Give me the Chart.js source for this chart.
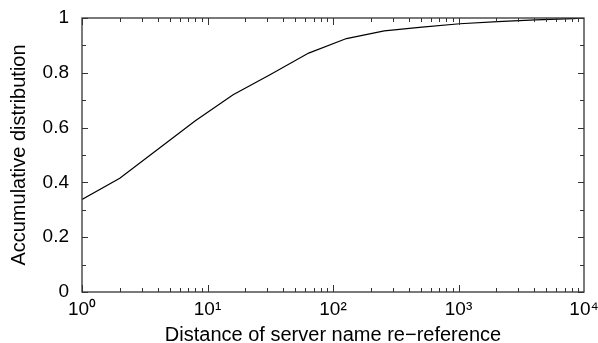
<!DOCTYPE html>
<html lang="en">
<head>
    <meta charset="UTF-8">
    <title>server name re-reference</title>
    <style>
        body { margin: 0; background: #fff; }
        #cdf { display: block; }
    </style>
</head>
<body>
    <canvas id="cdf" width="598" height="343"></canvas>

    <script src="https://cdn.jsdelivr.net/npm/chart.js"></script>
    <script>
        // data (distance, cumulative share)
        const distances = [1, 2, 4, 8, 16, 32, 64, 128, 256, 512, 1024, 2048, 4096, 8192, 10000];
        const cdfValues = [0.338, 0.415, 0.52, 0.625, 0.72, 0.795, 0.872, 0.925, 0.953, 0.967, 0.979, 0.987, 0.993, 0.998, 1.0];

        const xTickValues = [1, 10, 100, 1000, 10000];
        const xTickLabels = ['10\u2070', '10\u00b9', '10\u00b2', '10\u00b3', '10\u2074'];
        const yTickValues = [0, 0.2, 0.4, 0.6, 0.8, 1];
        const yTickLabels = ['0', '0.2', '0.4', '0.6', '0.8', '1'];

        const FONT = 'Liberation Sans, Arial, Helvetica, sans-serif';

        // frame + inward ticks on all four sides, like the gnuplot original
        const frameTicks = {
            id: 'frameTicks',
            afterDraw(chart) {
                const { ctx, chartArea: { left, right, top, bottom }, scales: { x, y } } = chart;
                ctx.save();
                ctx.strokeStyle = '#333';
                ctx.lineWidth = 1.3;
                ctx.strokeRect(left, top, right - left, bottom - top);

                ctx.lineWidth = 1;
                ctx.beginPath();
                for (let d = 1; d <= 1000; d *= 10) {
                    for (let m = 1; m <= 9; m++) {
                        const px = Math.round(x.getPixelForValue(d * m)) + 0.5;
                        const len = m === 1 ? 7 : 4;
                        ctx.moveTo(px, bottom); ctx.lineTo(px, bottom - len);
                        ctx.moveTo(px, top); ctx.lineTo(px, top + len);
                    }
                }
                for (let i = 0; i <= 10; i++) {
                    const py = Math.round(y.getPixelForValue(i / 10)) + 0.5;
                    const len = i % 2 === 0 ? 6 : 4;
                    ctx.moveTo(left, py); ctx.lineTo(left + len, py);
                    ctx.moveTo(right, py); ctx.lineTo(right - len, py);
                }
                ctx.stroke();
                ctx.restore();
            }
        };

        const ctx = document.getElementById('cdf');
        const chart = new Chart(ctx, {
            type: 'line',
            data: {
                datasets: [{
                    data: distances.map((d, i) => ({ x: d, y: cdfValues[i] })),
                    borderColor: '#000',
                    borderWidth: 1.2,
                    pointRadius: 0,
                    tension: 0,
                    fill: false
                }]
            },
            options: {
                responsive: false,
                animation: false,
                layout: { padding: { left: 4, right: 14, top: 18, bottom: 0 } },
                plugins: {
                    legend: { display: false },
                    tooltip: { enabled: false }
                },
                scales: {
                    x: {
                        type: 'logarithmic',
                        min: 1,
                        max: 10000,
                        grid: { display: false, drawTicks: false },
                        border: { display: false },
                        afterBuildTicks: s => { s.ticks = xTickValues.map(v => ({ value: v })); },
                        // fixed box so the plot area lands where the original's does
                        afterFit: s => { s.height = 51; s.paddingLeft = 0; s.paddingRight = 0; },
                        ticks: {
                            color: '#000',
                            autoSkip: false,
                            maxRotation: 0,
                            padding: 6,
                            font: { family: FONT, size: 19 },
                            callback: v => xTickLabels[xTickValues.indexOf(v)]
                        },
                        title: {
                            display: true,
                            text: 'Distance of server name re\u2212reference',
                            color: '#000',
                            font: { family: FONT, size: 20, lineHeight: 1 },
                            padding: { top: 0, bottom: -2 }
                        }
                    },
                    y: {
                        min: 0,
                        max: 1,
                        grid: { display: false, drawTicks: false },
                        border: { display: false },
                        afterBuildTicks: s => { s.ticks = yTickValues.map(v => ({ value: v })); },
                        afterFit: s => { s.width = 78; s.paddingTop = 0; s.paddingBottom = 0; },
                        ticks: {
                            color: '#000',
                            padding: 13,
                            font: { family: FONT, size: 19 },
                            callback: v => yTickLabels[yTickValues.indexOf(v)]
                        },
                        title: {
                            display: true,
                            text: 'Accumulative distribution',
                            color: '#000',
                            font: { family: FONT, size: 20, lineHeight: 1 },
                            padding: { top: 5, bottom: 0 }
                        }
                    }
                }
            },
            plugins: [frameTicks]
        });
    </script>
</body>
</html>
